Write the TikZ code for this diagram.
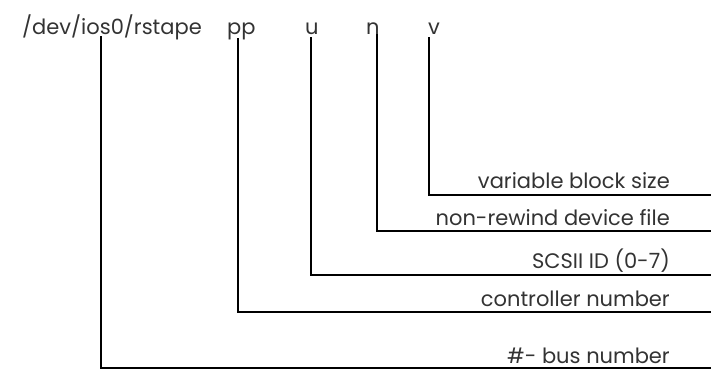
\documentclass[tikz,border=0pt]{standalone}
\usepackage{fontspec}
\setmainfont{Poppins}
\usepackage{tikz}

\begin{document}
\begin{tikzpicture}[x=1pt, y=-1pt,
    field/.style={anchor=base west, inner sep=0pt, text=black!80, font=\fontsize{21}{24}\selectfont},
    tag/.style={anchor=base east, inner sep=0pt, text=black!80, font=\fontsize{21}{24}\selectfont},
    lead/.style={line width=1.8pt}]

    \useasboundingbox (0,0) rectangle (711,370);

    % device name and its fields
    \node[field] (dev) at (22,34) {/dev/ios0/rstape};
    \node[field] (pp) at (227,34) {pp};
    \node[field] (u) at (305,34) {u};
    \node[field] (n) at (366,34) {n};
    \node[field] (v) at (428,34) {v};

    % descriptions, right aligned
    \node[tag] (blk) at (670,188) {variable block size};
    \node[tag] (nrw) at (670,225) {non-rewind device file};
    \node[tag] (scsi) at (670,268) {SCSII ID (0-7)};
    \node[tag] (ctl) at (670,306) {controller number};
    \node[tag] (bus) at (670,363) {\#- bus number};

    % where the leads start and end
    \coordinate (busTop) at (101,36);
    \coordinate (ppTop) at (238,38);
    \coordinate (uTop) at (311,37);
    \coordinate (nTop) at (377,34);
    \coordinate (vTop) at (429,37);
    \coordinate (busEnd) at (711,368);
    \coordinate (ctlEnd) at (711,312);
    \coordinate (scsiEnd) at (711,275);
    \coordinate (nrwEnd) at (711,231);
    \coordinate (blkEnd) at (711,195);

    \draw[lead] (busTop) |- (busEnd);
    \draw[lead] (ppTop) |- (ctlEnd);
    \draw[lead] (uTop) |- (scsiEnd);
    \draw[lead] (nTop) |- (nrwEnd);
    \draw[lead] (vTop) |- (blkEnd);
\end{tikzpicture}
\end{document}
